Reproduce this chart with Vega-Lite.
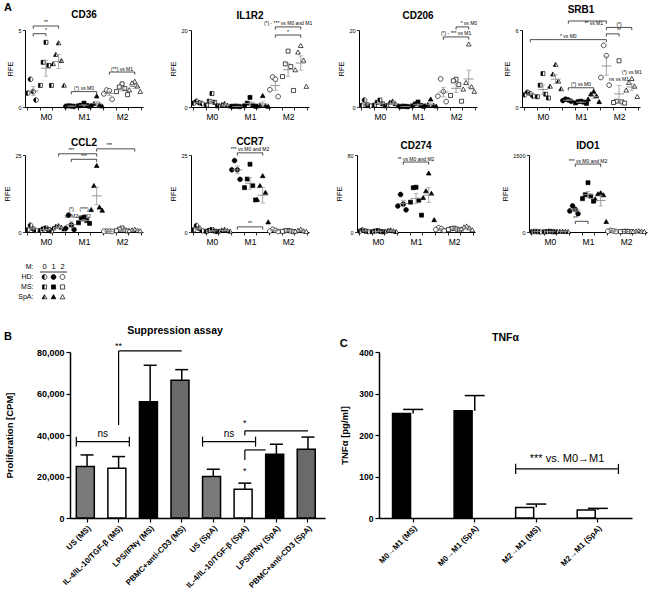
{
"$schema": "https://vega.github.io/schema/vega-lite/v6.json",
"background": "white",
"padding": {"left": 3, "top": 1, "right": 2, "bottom": 1},
"title": {"text": "A", "anchor": "start", "fontSize": 11, "offset": -8},
"resolve": {"scale": {"fill": "independent", "shape": "independent"}},
"config": {
 "font": "Liberation Sans",
 "view": {"stroke": null},
 "mark": {"color": "black"},
 "axis": {"domainColor": "black", "tickColor": "black", "labelColor": "black", "titleColor": "black", "grid": false, "labelFontSize": 5.5, "titleFontSize": 7.5, "titleFontWeight": "normal", "tickSize": 2.5, "domainWidth": 1, "tickWidth": 0.8, "labelPadding": 1.5, "titlePadding": 3},
 "title": {"fontSize": 10, "fontWeight": "bold", "color": "black", "offset": 2},
 "text": {"color": "black"}
},
"datasets": {
"pts": [
{"g":"CD36","c":"M0 HD","r":2,"v":1.8},{"g":"CD36","c":"M0 HD","r":3,"v":1.0},{"g":"CD36","c":"M0 HD","r":1,"v":0.9},{"g":"CD36","c":"M0 HD","r":4,"v":0.45},
{"g":"CD36","c":"M0 MS","r":3,"v":4.2},{"g":"CD36","c":"M0 MS","r":2,"v":2.9},{"g":"CD36","c":"M0 MS","r":4,"v":2.7},{"g":"CD36","c":"M0 MS","r":1,"v":1.4},{"g":"CD36","c":"M0 MS","r":5,"v":1.4},
{"g":"CD36","c":"M0 SpA","r":3,"v":4.15},{"g":"CD36","c":"M0 SpA","r":2,"v":3.4},{"g":"CD36","c":"M0 SpA","r":4,"v":3.0},{"g":"CD36","c":"M0 SpA","r":1,"v":2.8},{"g":"CD36","c":"M0 SpA","r":5,"v":1.4},
{"g":"CD36","c":"M1 HD","r":2,"v":0.08},{"g":"CD36","c":"M1 HD","r":3,"v":0.06},{"g":"CD36","c":"M1 HD","r":1,"v":0.05},{"g":"CD36","c":"M1 HD","r":4,"v":0.04},
{"g":"CD36","c":"M1 MS","r":3,"v":0.25},{"g":"CD36","c":"M1 MS","r":2,"v":0.12},{"g":"CD36","c":"M1 MS","r":4,"v":0.1},{"g":"CD36","c":"M1 MS","r":1,"v":0.08},{"g":"CD36","c":"M1 MS","r":5,"v":0.05},
{"g":"CD36","c":"M1 SpA","r":3,"v":0.7},{"g":"CD36","c":"M1 SpA","r":2,"v":0.2},{"g":"CD36","c":"M1 SpA","r":4,"v":0.15},{"g":"CD36","c":"M1 SpA","r":1,"v":0.1},{"g":"CD36","c":"M1 SpA","r":5,"v":0.05},
{"g":"CD36","c":"M2 HD","r":2,"v":1.1},{"g":"CD36","c":"M2 HD","r":3,"v":1.05},{"g":"CD36","c":"M2 HD","r":1,"v":0.85},{"g":"CD36","c":"M2 HD","r":4,"v":0.5},
{"g":"CD36","c":"M2 MS","r":3,"v":1.5},{"g":"CD36","c":"M2 MS","r":2,"v":1.3},{"g":"CD36","c":"M2 MS","r":4,"v":1.2},{"g":"CD36","c":"M2 MS","r":1,"v":1.0},{"g":"CD36","c":"M2 MS","r":5,"v":0.8},
{"g":"CD36","c":"M2 SpA","r":3,"v":1.65},{"g":"CD36","c":"M2 SpA","r":2,"v":1.55},{"g":"CD36","c":"M2 SpA","r":4,"v":1.35},{"g":"CD36","c":"M2 SpA","r":1,"v":1.1},{"g":"CD36","c":"M2 SpA","r":5,"v":1.0},

{"g":"IL1R2","c":"M0 HD","r":2,"v":1.5},{"g":"IL1R2","c":"M0 HD","r":3,"v":1.1},{"g":"IL1R2","c":"M0 HD","r":1,"v":1.0},{"g":"IL1R2","c":"M0 HD","r":4,"v":0.9},
{"g":"IL1R2","c":"M0 MS","r":3,"v":3.5},{"g":"IL1R2","c":"M0 MS","r":2,"v":1.5},{"g":"IL1R2","c":"M0 MS","r":4,"v":1.2},{"g":"IL1R2","c":"M0 MS","r":1,"v":0.5},{"g":"IL1R2","c":"M0 MS","r":5,"v":0.3},
{"g":"IL1R2","c":"M0 SpA","r":3,"v":0.9},{"g":"IL1R2","c":"M0 SpA","r":2,"v":0.6},{"g":"IL1R2","c":"M0 SpA","r":4,"v":0.4},{"g":"IL1R2","c":"M0 SpA","r":1,"v":0.3},{"g":"IL1R2","c":"M0 SpA","r":5,"v":0.2},
{"g":"IL1R2","c":"M1 HD","r":2,"v":0.2},{"g":"IL1R2","c":"M1 HD","r":3,"v":0.2},{"g":"IL1R2","c":"M1 HD","r":1,"v":0.15},{"g":"IL1R2","c":"M1 HD","r":4,"v":0.1},
{"g":"IL1R2","c":"M1 MS","r":3,"v":2.5},{"g":"IL1R2","c":"M1 MS","r":2,"v":1.0},{"g":"IL1R2","c":"M1 MS","r":4,"v":0.5},{"g":"IL1R2","c":"M1 MS","r":1,"v":0.3},{"g":"IL1R2","c":"M1 MS","r":5,"v":0.2},
{"g":"IL1R2","c":"M1 SpA","r":3,"v":2.9},{"g":"IL1R2","c":"M1 SpA","r":2,"v":0.5},{"g":"IL1R2","c":"M1 SpA","r":4,"v":0.3},{"g":"IL1R2","c":"M1 SpA","r":1,"v":0.2},{"g":"IL1R2","c":"M1 SpA","r":5,"v":0.1},
{"g":"IL1R2","c":"M2 HD","r":2,"v":7.8},{"g":"IL1R2","c":"M2 HD","r":3,"v":7.2},{"g":"IL1R2","c":"M2 HD","r":1,"v":4.5},{"g":"IL1R2","c":"M2 HD","r":4,"v":2.7},
{"g":"IL1R2","c":"M2 MS","r":3,"v":14.5},{"g":"IL1R2","c":"M2 MS","r":2,"v":11.2},{"g":"IL1R2","c":"M2 MS","r":4,"v":10.5},{"g":"IL1R2","c":"M2 MS","r":1,"v":7.9},{"g":"IL1R2","c":"M2 MS","r":5,"v":4.3},
{"g":"IL1R2","c":"M2 SpA","r":3,"v":15.9},{"g":"IL1R2","c":"M2 SpA","r":2,"v":14.2},{"g":"IL1R2","c":"M2 SpA","r":4,"v":12.1},{"g":"IL1R2","c":"M2 SpA","r":1,"v":9.6},{"g":"IL1R2","c":"M2 SpA","r":5,"v":5.3},

{"g":"CD206","c":"M0 HD","r":2,"v":1.8},{"g":"CD206","c":"M0 HD","r":3,"v":0.6},{"g":"CD206","c":"M0 HD","r":1,"v":0.4},{"g":"CD206","c":"M0 HD","r":4,"v":0.3},
{"g":"CD206","c":"M0 MS","r":3,"v":1.8},{"g":"CD206","c":"M0 MS","r":2,"v":1.2},{"g":"CD206","c":"M0 MS","r":4,"v":0.8},{"g":"CD206","c":"M0 MS","r":1,"v":0.5},{"g":"CD206","c":"M0 MS","r":5,"v":0.3},
{"g":"CD206","c":"M0 SpA","r":3,"v":1.5},{"g":"CD206","c":"M0 SpA","r":2,"v":1.2},{"g":"CD206","c":"M0 SpA","r":4,"v":0.8},{"g":"CD206","c":"M0 SpA","r":1,"v":0.4},{"g":"CD206","c":"M0 SpA","r":5,"v":0.3},
{"g":"CD206","c":"M1 HD","r":2,"v":0.2},{"g":"CD206","c":"M1 HD","r":3,"v":0.15},{"g":"CD206","c":"M1 HD","r":1,"v":0.1},{"g":"CD206","c":"M1 HD","r":4,"v":0.1},
{"g":"CD206","c":"M1 MS","r":3,"v":1.3},{"g":"CD206","c":"M1 MS","r":2,"v":0.8},{"g":"CD206","c":"M1 MS","r":4,"v":0.4},{"g":"CD206","c":"M1 MS","r":1,"v":0.3},{"g":"CD206","c":"M1 MS","r":5,"v":0.2},
{"g":"CD206","c":"M1 SpA","r":3,"v":2.0},{"g":"CD206","c":"M1 SpA","r":2,"v":0.6},{"g":"CD206","c":"M1 SpA","r":4,"v":0.4},{"g":"CD206","c":"M1 SpA","r":1,"v":0.3},{"g":"CD206","c":"M1 SpA","r":5,"v":0.2},
{"g":"CD206","c":"M2 HD","r":2,"v":7.3},{"g":"CD206","c":"M2 HD","r":3,"v":4.0},{"g":"CD206","c":"M2 HD","r":1,"v":2.8},{"g":"CD206","c":"M2 HD","r":4,"v":1.4},
{"g":"CD206","c":"M2 MS","r":3,"v":7.2},{"g":"CD206","c":"M2 MS","r":2,"v":6.8},{"g":"CD206","c":"M2 MS","r":4,"v":5.8},{"g":"CD206","c":"M2 MS","r":1,"v":3.0},{"g":"CD206","c":"M2 MS","r":5,"v":1.5},
{"g":"CD206","c":"M2 SpA","r":3,"v":16.3},{"g":"CD206","c":"M2 SpA","r":2,"v":6.3},{"g":"CD206","c":"M2 SpA","r":4,"v":5.2},{"g":"CD206","c":"M2 SpA","r":1,"v":4.6},{"g":"CD206","c":"M2 SpA","r":5,"v":4.0},

{"g":"SRB1","c":"M0 HD","r":2,"v":1.15},{"g":"SRB1","c":"M0 HD","r":3,"v":1.05},{"g":"SRB1","c":"M0 HD","r":1,"v":0.95},{"g":"SRB1","c":"M0 HD","r":4,"v":0.85},
{"g":"SRB1","c":"M0 MS","r":3,"v":2.6},{"g":"SRB1","c":"M0 MS","r":2,"v":1.7},{"g":"SRB1","c":"M0 MS","r":4,"v":1.0},{"g":"SRB1","c":"M0 MS","r":1,"v":0.8},{"g":"SRB1","c":"M0 MS","r":5,"v":0.7},
{"g":"SRB1","c":"M0 SpA","r":3,"v":3.3},{"g":"SRB1","c":"M0 SpA","r":2,"v":2.55},{"g":"SRB1","c":"M0 SpA","r":4,"v":2.0},{"g":"SRB1","c":"M0 SpA","r":1,"v":1.6},{"g":"SRB1","c":"M0 SpA","r":5,"v":1.4},
{"g":"SRB1","c":"M1 HD","r":2,"v":0.62},{"g":"SRB1","c":"M1 HD","r":3,"v":0.55},{"g":"SRB1","c":"M1 HD","r":1,"v":0.5},{"g":"SRB1","c":"M1 HD","r":4,"v":0.45},
{"g":"SRB1","c":"M1 MS","r":3,"v":0.45},{"g":"SRB1","c":"M1 MS","r":2,"v":0.42},{"g":"SRB1","c":"M1 MS","r":4,"v":0.38},{"g":"SRB1","c":"M1 MS","r":1,"v":0.32},{"g":"SRB1","c":"M1 MS","r":5,"v":0.28},
{"g":"SRB1","c":"M1 SpA","r":3,"v":1.2},{"g":"SRB1","c":"M1 SpA","r":2,"v":1.0},{"g":"SRB1","c":"M1 SpA","r":4,"v":0.85},{"g":"SRB1","c":"M1 SpA","r":1,"v":0.6},{"g":"SRB1","c":"M1 SpA","r":5,"v":0.4},
{"g":"SRB1","c":"M2 HD","r":2,"v":4.8},{"g":"SRB1","c":"M2 HD","r":3,"v":4.0},{"g":"SRB1","c":"M2 HD","r":1,"v":2.3},{"g":"SRB1","c":"M2 HD","r":4,"v":1.7},
{"g":"SRB1","c":"M2 MS","r":3,"v":3.6},{"g":"SRB1","c":"M2 MS","r":2,"v":0.45},{"g":"SRB1","c":"M2 MS","r":4,"v":0.4},{"g":"SRB1","c":"M2 MS","r":1,"v":0.35},{"g":"SRB1","c":"M2 MS","r":5,"v":0.3},
{"g":"SRB1","c":"M2 SpA","r":3,"v":2.2},{"g":"SRB1","c":"M2 SpA","r":2,"v":1.9},{"g":"SRB1","c":"M2 SpA","r":4,"v":1.6},{"g":"SRB1","c":"M2 SpA","r":1,"v":1.3},{"g":"SRB1","c":"M2 SpA","r":5,"v":0.8},

{"g":"CCL2","c":"M0 HD","r":2,"v":2.2},{"g":"CCL2","c":"M0 HD","r":3,"v":1.0},{"g":"CCL2","c":"M0 HD","r":1,"v":0.7},{"g":"CCL2","c":"M0 HD","r":4,"v":0.5},
{"g":"CCL2","c":"M0 MS","r":3,"v":1.3},{"g":"CCL2","c":"M0 MS","r":2,"v":1.0},{"g":"CCL2","c":"M0 MS","r":4,"v":0.8},{"g":"CCL2","c":"M0 MS","r":1,"v":0.5},{"g":"CCL2","c":"M0 MS","r":5,"v":0.3},
{"g":"CCL2","c":"M0 SpA","r":3,"v":2.0},{"g":"CCL2","c":"M0 SpA","r":2,"v":1.8},{"g":"CCL2","c":"M0 SpA","r":4,"v":1.5},{"g":"CCL2","c":"M0 SpA","r":1,"v":1.2},{"g":"CCL2","c":"M0 SpA","r":5,"v":0.9},
{"g":"CCL2","c":"M1 HD","r":2,"v":5.5},{"g":"CCL2","c":"M1 HD","r":3,"v":2.3},{"g":"CCL2","c":"M1 HD","r":1,"v":1.2},{"g":"CCL2","c":"M1 HD","r":4,"v":0.8},
{"g":"CCL2","c":"M1 MS","r":3,"v":4.8},{"g":"CCL2","c":"M1 MS","r":2,"v":4.3},{"g":"CCL2","c":"M1 MS","r":4,"v":3.7},{"g":"CCL2","c":"M1 MS","r":1,"v":3.0},{"g":"CCL2","c":"M1 MS","r":5,"v":2.8},
{"g":"CCL2","c":"M1 SpA","r":3,"v":21.5},{"g":"CCL2","c":"M1 SpA","r":2,"v":15.0},{"g":"CCL2","c":"M1 SpA","r":4,"v":8.0},{"g":"CCL2","c":"M1 SpA","r":1,"v":7.2},{"g":"CCL2","c":"M1 SpA","r":5,"v":7.0},
{"g":"CCL2","c":"M2 HD","r":2,"v":0.3},{"g":"CCL2","c":"M2 HD","r":3,"v":0.25},{"g":"CCL2","c":"M2 HD","r":1,"v":0.2},{"g":"CCL2","c":"M2 HD","r":4,"v":0.2},
{"g":"CCL2","c":"M2 MS","r":3,"v":1.3},{"g":"CCL2","c":"M2 MS","r":2,"v":0.9},{"g":"CCL2","c":"M2 MS","r":4,"v":0.6},{"g":"CCL2","c":"M2 MS","r":1,"v":0.4},{"g":"CCL2","c":"M2 MS","r":5,"v":0.3},
{"g":"CCL2","c":"M2 SpA","r":3,"v":0.8},{"g":"CCL2","c":"M2 SpA","r":2,"v":0.6},{"g":"CCL2","c":"M2 SpA","r":4,"v":0.5},{"g":"CCL2","c":"M2 SpA","r":1,"v":0.4},{"g":"CCL2","c":"M2 SpA","r":5,"v":0.3},

{"g":"CCR7","c":"M0 HD","r":2,"v":2.1},{"g":"CCR7","c":"M0 HD","r":3,"v":1.2},{"g":"CCR7","c":"M0 HD","r":1,"v":0.7},{"g":"CCR7","c":"M0 HD","r":4,"v":0.4},
{"g":"CCR7","c":"M0 MS","r":3,"v":0.8},{"g":"CCR7","c":"M0 MS","r":2,"v":0.5},{"g":"CCR7","c":"M0 MS","r":4,"v":0.3},{"g":"CCR7","c":"M0 MS","r":1,"v":0.2},{"g":"CCR7","c":"M0 MS","r":5,"v":0.1},
{"g":"CCR7","c":"M0 SpA","r":3,"v":0.8},{"g":"CCR7","c":"M0 SpA","r":2,"v":0.6},{"g":"CCR7","c":"M0 SpA","r":4,"v":0.4},{"g":"CCR7","c":"M0 SpA","r":1,"v":0.3},{"g":"CCR7","c":"M0 SpA","r":5,"v":0.2},
{"g":"CCR7","c":"M1 HD","r":2,"v":23.2},{"g":"CCR7","c":"M1 HD","r":3,"v":20.2},{"g":"CCR7","c":"M1 HD","r":1,"v":20.2},{"g":"CCR7","c":"M1 HD","r":4,"v":17.1},
{"g":"CCR7","c":"M1 MS","r":3,"v":22.0},{"g":"CCR7","c":"M1 MS","r":2,"v":17.2},{"g":"CCR7","c":"M1 MS","r":4,"v":15.1},{"g":"CCR7","c":"M1 MS","r":1,"v":14.4},{"g":"CCR7","c":"M1 MS","r":5,"v":10.4},
{"g":"CCR7","c":"M1 SpA","r":3,"v":18.2},{"g":"CCR7","c":"M1 SpA","r":2,"v":15.0},{"g":"CCR7","c":"M1 SpA","r":4,"v":12.8},{"g":"CCR7","c":"M1 SpA","r":1,"v":10.5},{"g":"CCR7","c":"M1 SpA","r":5,"v":3.2},
{"g":"CCR7","c":"M2 HD","r":2,"v":0.9},{"g":"CCR7","c":"M2 HD","r":3,"v":0.5},{"g":"CCR7","c":"M2 HD","r":1,"v":0.3},{"g":"CCR7","c":"M2 HD","r":4,"v":0.2},
{"g":"CCR7","c":"M2 MS","r":3,"v":0.5},{"g":"CCR7","c":"M2 MS","r":2,"v":0.4},{"g":"CCR7","c":"M2 MS","r":4,"v":0.3},{"g":"CCR7","c":"M2 MS","r":1,"v":0.2},{"g":"CCR7","c":"M2 MS","r":5,"v":0.1},
{"g":"CCR7","c":"M2 SpA","r":3,"v":0.8},{"g":"CCR7","c":"M2 SpA","r":2,"v":0.5},{"g":"CCR7","c":"M2 SpA","r":4,"v":0.3},{"g":"CCR7","c":"M2 SpA","r":1,"v":0.2},{"g":"CCR7","c":"M2 SpA","r":5,"v":0.1},

{"g":"CD274","c":"M0 HD","r":2,"v":2.0},{"g":"CD274","c":"M0 HD","r":3,"v":1.0},{"g":"CD274","c":"M0 HD","r":1,"v":0.8},{"g":"CD274","c":"M0 HD","r":4,"v":0.5},
{"g":"CD274","c":"M0 MS","r":3,"v":1.5},{"g":"CD274","c":"M0 MS","r":2,"v":1.0},{"g":"CD274","c":"M0 MS","r":4,"v":0.5},{"g":"CD274","c":"M0 MS","r":1,"v":0.3},{"g":"CD274","c":"M0 MS","r":5,"v":0.2},
{"g":"CD274","c":"M0 SpA","r":3,"v":2.0},{"g":"CD274","c":"M0 SpA","r":2,"v":1.5},{"g":"CD274","c":"M0 SpA","r":4,"v":1.0},{"g":"CD274","c":"M0 SpA","r":1,"v":0.5},{"g":"CD274","c":"M0 SpA","r":5,"v":0.3},
{"g":"CD274","c":"M1 HD","r":2,"v":39},{"g":"CD274","c":"M1 HD","r":3,"v":29},{"g":"CD274","c":"M1 HD","r":1,"v":27},{"g":"CD274","c":"M1 HD","r":4,"v":23},
{"g":"CD274","c":"M1 MS","r":3,"v":46.5},{"g":"CD274","c":"M1 MS","r":2,"v":46},{"g":"CD274","c":"M1 MS","r":4,"v":33},{"g":"CD274","c":"M1 MS","r":1,"v":31},{"g":"CD274","c":"M1 MS","r":5,"v":17.5},
{"g":"CD274","c":"M1 SpA","r":3,"v":61},{"g":"CD274","c":"M1 SpA","r":2,"v":42.5},{"g":"CD274","c":"M1 SpA","r":4,"v":40},{"g":"CD274","c":"M1 SpA","r":1,"v":35.5},{"g":"CD274","c":"M1 SpA","r":5,"v":12.5},
{"g":"CD274","c":"M2 HD","r":2,"v":4.5},{"g":"CD274","c":"M2 HD","r":3,"v":3.5},{"g":"CD274","c":"M2 HD","r":1,"v":2.5},{"g":"CD274","c":"M2 HD","r":4,"v":1.5},
{"g":"CD274","c":"M2 MS","r":3,"v":4.0},{"g":"CD274","c":"M2 MS","r":2,"v":3.5},{"g":"CD274","c":"M2 MS","r":4,"v":3.0},{"g":"CD274","c":"M2 MS","r":1,"v":2.5},{"g":"CD274","c":"M2 MS","r":5,"v":2.0},
{"g":"CD274","c":"M2 SpA","r":3,"v":6.0},{"g":"CD274","c":"M2 SpA","r":2,"v":5.0},{"g":"CD274","c":"M2 SpA","r":4,"v":4.0},{"g":"CD274","c":"M2 SpA","r":1,"v":3.0},{"g":"CD274","c":"M2 SpA","r":5,"v":2.0},

{"g":"IDO1","c":"M0 HD","r":2,"v":10},{"g":"IDO1","c":"M0 HD","r":3,"v":8},{"g":"IDO1","c":"M0 HD","r":1,"v":5},{"g":"IDO1","c":"M0 HD","r":4,"v":3},
{"g":"IDO1","c":"M0 MS","r":3,"v":15},{"g":"IDO1","c":"M0 MS","r":2,"v":8},{"g":"IDO1","c":"M0 MS","r":4,"v":5},{"g":"IDO1","c":"M0 MS","r":1,"v":3},{"g":"IDO1","c":"M0 MS","r":5,"v":2},
{"g":"IDO1","c":"M0 SpA","r":3,"v":12},{"g":"IDO1","c":"M0 SpA","r":2,"v":10},{"g":"IDO1","c":"M0 SpA","r":4,"v":8},{"g":"IDO1","c":"M0 SpA","r":1,"v":5},{"g":"IDO1","c":"M0 SpA","r":5,"v":3},
{"g":"IDO1","c":"M1 HD","r":2,"v":510},{"g":"IDO1","c":"M1 HD","r":3,"v":440},{"g":"IDO1","c":"M1 HD","r":1,"v":410},{"g":"IDO1","c":"M1 HD","r":4,"v":355},
{"g":"IDO1","c":"M1 MS","r":3,"v":960},{"g":"IDO1","c":"M1 MS","r":2,"v":725},{"g":"IDO1","c":"M1 MS","r":4,"v":700},{"g":"IDO1","c":"M1 MS","r":1,"v":650},{"g":"IDO1","c":"M1 MS","r":5,"v":600},
{"g":"IDO1","c":"M1 SpA","r":3,"v":760},{"g":"IDO1","c":"M1 SpA","r":2,"v":740},{"g":"IDO1","c":"M1 SpA","r":4,"v":720},{"g":"IDO1","c":"M1 SpA","r":1,"v":640},{"g":"IDO1","c":"M1 SpA","r":5,"v":200},
{"g":"IDO1","c":"M2 HD","r":2,"v":30},{"g":"IDO1","c":"M2 HD","r":3,"v":20},{"g":"IDO1","c":"M2 HD","r":1,"v":15},{"g":"IDO1","c":"M2 HD","r":4,"v":10},
{"g":"IDO1","c":"M2 MS","r":3,"v":15},{"g":"IDO1","c":"M2 MS","r":2,"v":12},{"g":"IDO1","c":"M2 MS","r":4,"v":10},{"g":"IDO1","c":"M2 MS","r":1,"v":8},{"g":"IDO1","c":"M2 MS","r":5,"v":5},
{"g":"IDO1","c":"M2 SpA","r":3,"v":20},{"g":"IDO1","c":"M2 SpA","r":2,"v":15},{"g":"IDO1","c":"M2 SpA","r":4,"v":12},{"g":"IDO1","c":"M2 SpA","r":1,"v":8},{"g":"IDO1","c":"M2 SpA","r":5,"v":5}
],
"br": [
{"g":"CD36","a":"M0 HD","b":"M0 SpA","y":5.26,"t":"**","tc":"M0 MS"},
{"g":"CD36","a":"M0 HD","b":"M0 MS","y":4.76,"t":"*","tc":"M0 MS"},
{"g":"CD36","a":"M1 HD","b":"M1 SpA","y":1.0,"t":"(*) vs M0","tc":"M1 MS"},
{"g":"CD36","a":"M2 HD","b":"M2 SpA","y":2.27,"t":"(**) vs M1","tc":"M2 MS"},
{"g":"IL1R2","a":"M2 HD","b":"M2 SpA","y":20.8,"t":"(*) - *** vs M0 and M1","tc":"M2 MS"},
{"g":"IL1R2","a":"M2 HD","b":"M2 SpA","y":18.7,"t":"*","tc":"M2 MS"},
{"g":"CD206","a":"M2 MS","b":"M2 SpA","y":20.8,"t":"* vs M0","tc":"M2 SpA"},
{"g":"CD206","a":"M2 HD","b":"M2 SpA","y":18.2,"t":"(*) - *** vs M1","tc":"M2 MS"},
{"g":"SRB1","a":"M1 HD","b":"M2 HD","y":6.7,"t":"","tc":"M1 SpA"},
{"g":"SRB1","tc":"M1 SpA","y":6.25,"t":"** vs M1"},
{"g":"SRB1","a":"M2 HD","b":"M2 SpA","y":6.2,"t":"(*)","tc":"M2 MS"},
{"g":"SRB1","a":"M2 HD","b":"M2 MS","y":5.7,"t":"**","tc":"M2 MS"},
{"g":"SRB1","a":"M0 HD","b":"M2 HD","y":5.25,"t":"* vs M0","tc":"M1 HD"},
{"g":"SRB1","a":"M1 HD","b":"M1 SpA","y":1.5,"t":"(*) vs M0","tc":"M1 MS"},
{"g":"SRB1","tc":"M2 MS","y":1.9,"t":"ns vs M1"},
{"g":"SRB1","tc":"M2 SpA","y":2.45,"t":"(*) vs M1"},
{"g":"CCL2","a":"M0 SpA","b":"M1 SpA","y":25.4,"t":"***","tc":"M1 HD"},
{"g":"CCL2","a":"M1 HD","b":"M1 SpA","y":23.6,"t":"***","tc":"M1 MS"},
{"g":"CCL2","a":"M1 SpA","b":"M2 SpA","y":27.0,"t":"***","tc":"M2 HD"},
{"g":"CCL2","tc":"M1 HD","y":6.3,"t":"(*)\nvs M2"},
{"g":"CCL2","tc":"M1 MS","y":6.3,"t":"(***)\nvs M2"},
{"g":"CCR7","a":"M1 HD","b":"M1 SpA","y":25.7,"t":"*** vs M0 and M2","tc":"M1 MS"},
{"g":"CCR7","a":"M1 HD","b":"M1 SpA","y":1.66,"t":"**","tc":"M1 MS"},
{"g":"CD274","a":"M1 HD","b":"M1 SpA","y":72.7,"t":"** vs M0 and M2","tc":"M1 MS"},
{"g":"IDO1","a":"M1 HD","b":"M1 SpA","y":1323,"t":"*** vs M0 and M2","tc":"M1 MS"},
{"g":"IDO1","a":"M1 HD","b":"M1 MS","y":208,"t":"**","tc":"M1 HD"}
],
"leg": [
{"row":"M:","col":"0","t":"0"},{"row":"M:","col":"1","t":"1"},{"row":"M:","col":"2","t":"2"},
{"row":"HD:","col":"0","c":"M0 HD"},{"row":"HD:","col":"1","c":"M1 HD"},{"row":"HD:","col":"2","c":"M2 HD"},
{"row":"MS:","col":"0","c":"M0 MS"},{"row":"MS:","col":"1","c":"M1 MS"},{"row":"MS:","col":"2","c":"M2 MS"},
{"row":"SpA:","col":"0","c":"M0 SpA"},{"row":"SpA:","col":"1","c":"M1 SpA"},{"row":"SpA:","col":"2","c":"M2 SpA"}
],
"legLine": [{"a":"0","b":"2","row":"M:"}],
"supp": [
{"k":"US (MS)","v":24800,"e":30400},
{"k":"IL-4/IL-10/TGF-β (MS)","v":24000,"e":29600},
{"k":"LPS/IFNγ (MS)","v":56000,"e":73600},
{"k":"PBMC+anti-CD3 (MS)","v":66400,"e":71500},
{"k":"US (SpA)","v":20000,"e":23500},
{"k":"IL-4/IL-10/TGF-β (SpA)","v":13900,"e":16800},
{"k":"LPS/IFNγ (SpA)","v":30700,"e":35500},
{"k":"PBMC+anti-CD3 (SpA)","v":33100,"e":39000}
],
"suppSeg": [
{"xa":"IL-4/IL-10/TGF-β (MS)","xb":"IL-4/IL-10/TGF-β (MS)","ya":44800,"yb":80500},
{"xa":"IL-4/IL-10/TGF-β (MS)","xb":"PBMC+anti-CD3 (MS)","ya":80500,"yb":80500},
{"xa":"IL-4/IL-10/TGF-β (SpA)","xb":"PBMC+anti-CD3 (SpA)","ya":42000,"yb":42000},
{"xa":"IL-4/IL-10/TGF-β (SpA)","xb":"IL-4/IL-10/TGF-β (SpA)","ya":39800,"yb":42000},
{"xa":"IL-4/IL-10/TGF-β (SpA)","xb":"IL-4/IL-10/TGF-β (SpA)","ya":28000,"yb":32800}
],
"suppSegE": [
{"xa":"IL-4/IL-10/TGF-β (SpA)","xb":"LPS/IFNγ (SpA)","ya":32800,"yb":32800}
],
"suppNs": [
{"a":"US (MS)","b":"IL-4/IL-10/TGF-β (MS)","y":36800,"lo":34400,"hi":39200,"t":"ns","ty":40300},
{"a":"US (SpA)","b":"IL-4/IL-10/TGF-β (SpA)","y":36800,"lo":34400,"hi":39200,"t":"ns","ty":40300}
],
"suppTxt": [
{"x":"IL-4/IL-10/TGF-β (MS)","y":83000,"t":"**"},
{"x":"IL-4/IL-10/TGF-β (SpA)","y":46000,"t":"*"},
{"x":"IL-4/IL-10/TGF-β (SpA)","y":22500,"t":"*"}
],
"tnf": [
{"k":"M0→M1 (MS)","v":252,"e":261.6},
{"k":"M0→M1 (SpA)","v":258.4,"e":295},
{"k":"M2→M1 (MS)","v":25.6,"e":33.6},
{"k":"M2→M1 (SpA)","v":19.2,"e":23.2}
],
"tnfNs": [
{"a":"M2→M1 (MS)","b":"M2→M1 (SpA)","y":118.4,"lo":106,"hi":130.5,"t":"*** vs. M0→M1","ty":141}
]
},
"columns": 1,
"align": "none",
"spacing": 16,
"concat": [
{"resolve": {"scale": {"fill": "independent", "shape": "independent"}}, "hconcat": [
{"title":{"text":"CD36","offset":0},"width":118,"height":77,"resolve":{"scale":{"shape":"independent"}},"layer":[
{"data":{"name":"pts"},"transform":[{"filter":"datum.g=='CD36'"}],"mark":{"type":"point","filled":true,"stroke":"black","strokeWidth":0.7,"size":22,"opacity":1},
"encoding":{"x":{"field":"c","type":"nominal","title":null,"scale":{"paddingInner":0,"paddingOuter":0.15},"axis":{"labelExpr":"datum.value=='M0 MS' ? 'M0' : datum.value=='M1 MS' ? 'M1' : datum.value=='M2 MS' ? 'M2' : ''","labelAngle":0,"labelFontSize":8.5,"labelOverlap":false,"tickBand":"extent","tickSize":3,"labelPadding":2,"domainWidth":1.2}},
"xOffset":{"field":"r","type":"nominal","scale":{"domain":[1,2,3,4,5],"paddingOuter":0.3}},
"y":{"field":"v","type":"quantitative","title":"RFE","scale":{"domain":[0,5],"nice":false},"axis":{"values":[0,1,2,3,4,5]}},
"shape":{"field":"c","type":"nominal","scale":{"domain":["M0 HD","M0 MS","M0 SpA","M1 HD","M1 MS","M1 SpA","M2 HD","M2 MS","M2 SpA"],"range":["M1,0A1,1,0,1,1,-1,0A1,1,0,1,1,1,0Z","M-0.85,-0.85H0.85V0.85H-0.85Z","M0,-1L1,0.75H-1Z","M1,0A1,1,0,1,1,-1,0A1,1,0,1,1,1,0Z","M-0.85,-0.85H0.85V0.85H-0.85Z","M0,-1L1,0.75H-1Z","M1,0A1,1,0,1,1,-1,0A1,1,0,1,1,1,0Z","M-0.85,-0.85H0.85V0.85H-0.85Z","M0,-1L1,0.75H-1Z"]},"legend":null},
"fill":{"field":"c","type":"nominal","scale":{"domain":["M0 HD","M0 MS","M0 SpA","M1 HD","M1 MS","M1 SpA","M2 HD","M2 MS","M2 SpA"],"range":["white","white","white","black","black","black","white","white","white"]},"legend":null}}},
{"data":{"name":"pts"},"transform":[{"filter":"datum.g=='CD36'"},{"filter":{"field":"c","oneOf":["M0 HD","M0 MS","M0 SpA"]}}],"mark":{"type":"point","filled":true,"fill":"black","strokeWidth":0,"size":22,"opacity":1},
"encoding":{"x":{"field":"c","type":"nominal","title":null},"xOffset":{"field":"r","type":"nominal"},"y":{"field":"v","type":"quantitative","title":"RFE"},"shape":{"field":"c","type":"nominal","scale":{"domain":["M0 HD","M0 MS","M0 SpA"],"range":["M0,-1A1,1,0,0,0,0,1Z","M-0.85,-0.85H0V0.85H-0.85Z","M0,-1V0.75H-1Z"]},"legend":null}}},
{"data":{"name":"pts"},"transform":[{"filter":"datum.g=='CD36'"}],"mark":{"type":"errorbar","extent":"stderr","color":"#8c8c8c","thickness":0.8,"ticks":{"size":5}},"encoding":{"x":{"field":"c","type":"nominal","title":null},"y":{"field":"v","type":"quantitative","title":"RFE"}}},
{"data":{"name":"pts"},"transform":[{"filter":"datum.g=='CD36'"}],"mark":{"type":"tick","color":"#8c8c8c","thickness":0.9,"size":10,"opacity":1},"encoding":{"x":{"field":"c","type":"nominal","title":null},"y":{"aggregate":"mean","field":"v","type":"quantitative","title":"RFE"}}},
{"data":{"name":"br"},"transform":[{"filter":"datum.g=='CD36' && datum.a != null"}],"mark":{"type":"rule","color":"black","strokeWidth":0.7},"encoding":{"x":{"field":"a","type":"nominal","title":null},"x2":{"field":"b"},"y":{"field":"y","type":"quantitative","title":"RFE"}}},
{"data":{"name":"br"},"transform":[{"filter":"datum.g=='CD36'"},{"fold":["a","b"],"as":["k","col"]},{"filter":"datum.col != null"}],"mark":{"type":"point","shape":"M0,0V1","size":30,"stroke":"black","strokeWidth":0.7,"filled":false,"opacity":1},"encoding":{"x":{"field":"col","type":"nominal","title":null},"y":{"field":"y","type":"quantitative","title":"RFE"}}},
{"data":{"name":"br"},"transform":[{"filter":"datum.g=='CD36'"}],"mark":{"type":"text","color":"black","fontSize":5,"baseline":"bottom","dy":-0.5,"lineBreak":"\n"},"encoding":{"x":{"field":"tc","type":"nominal","title":null},"y":{"field":"y","type":"quantitative","title":"RFE"},"text":{"field":"t"}}}
]},
{"title":{"text":"IL1R2","offset":0},"width":118,"height":77,"resolve":{"scale":{"shape":"independent"}},"layer":[
{"data":{"name":"pts"},"transform":[{"filter":"datum.g=='IL1R2'"}],"mark":{"type":"point","filled":true,"stroke":"black","strokeWidth":0.7,"size":22,"opacity":1},
"encoding":{"x":{"field":"c","type":"nominal","title":null,"scale":{"paddingInner":0,"paddingOuter":0.15},"axis":{"labelExpr":"datum.value=='M0 MS' ? 'M0' : datum.value=='M1 MS' ? 'M1' : datum.value=='M2 MS' ? 'M2' : ''","labelAngle":0,"labelFontSize":8.5,"labelOverlap":false,"tickBand":"extent","tickSize":3,"labelPadding":2,"domainWidth":1.2}},
"xOffset":{"field":"r","type":"nominal","scale":{"domain":[1,2,3,4,5],"paddingOuter":0.3}},
"y":{"field":"v","type":"quantitative","title":"RFE","scale":{"domain":[0,20],"nice":false},"axis":{"values":[0,5,10,15,20]}},
"shape":{"field":"c","type":"nominal","scale":{"domain":["M0 HD","M0 MS","M0 SpA","M1 HD","M1 MS","M1 SpA","M2 HD","M2 MS","M2 SpA"],"range":["M1,0A1,1,0,1,1,-1,0A1,1,0,1,1,1,0Z","M-0.85,-0.85H0.85V0.85H-0.85Z","M0,-1L1,0.75H-1Z","M1,0A1,1,0,1,1,-1,0A1,1,0,1,1,1,0Z","M-0.85,-0.85H0.85V0.85H-0.85Z","M0,-1L1,0.75H-1Z","M1,0A1,1,0,1,1,-1,0A1,1,0,1,1,1,0Z","M-0.85,-0.85H0.85V0.85H-0.85Z","M0,-1L1,0.75H-1Z"]},"legend":null},
"fill":{"field":"c","type":"nominal","scale":{"domain":["M0 HD","M0 MS","M0 SpA","M1 HD","M1 MS","M1 SpA","M2 HD","M2 MS","M2 SpA"],"range":["white","white","white","black","black","black","white","white","white"]},"legend":null}}},
{"data":{"name":"pts"},"transform":[{"filter":"datum.g=='IL1R2'"},{"filter":{"field":"c","oneOf":["M0 HD","M0 MS","M0 SpA"]}}],"mark":{"type":"point","filled":true,"fill":"black","strokeWidth":0,"size":22,"opacity":1},
"encoding":{"x":{"field":"c","type":"nominal","title":null},"xOffset":{"field":"r","type":"nominal"},"y":{"field":"v","type":"quantitative","title":"RFE"},"shape":{"field":"c","type":"nominal","scale":{"domain":["M0 HD","M0 MS","M0 SpA"],"range":["M0,-1A1,1,0,0,0,0,1Z","M-0.85,-0.85H0V0.85H-0.85Z","M0,-1V0.75H-1Z"]},"legend":null}}},
{"data":{"name":"pts"},"transform":[{"filter":"datum.g=='IL1R2'"}],"mark":{"type":"errorbar","extent":"stderr","color":"#8c8c8c","thickness":0.8,"ticks":{"size":5}},"encoding":{"x":{"field":"c","type":"nominal","title":null},"y":{"field":"v","type":"quantitative","title":"RFE"}}},
{"data":{"name":"pts"},"transform":[{"filter":"datum.g=='IL1R2'"}],"mark":{"type":"tick","color":"#8c8c8c","thickness":0.9,"size":10,"opacity":1},"encoding":{"x":{"field":"c","type":"nominal","title":null},"y":{"aggregate":"mean","field":"v","type":"quantitative","title":"RFE"}}},
{"data":{"name":"br"},"transform":[{"filter":"datum.g=='IL1R2' && datum.a != null"}],"mark":{"type":"rule","color":"black","strokeWidth":0.7},"encoding":{"x":{"field":"a","type":"nominal","title":null},"x2":{"field":"b"},"y":{"field":"y","type":"quantitative","title":"RFE"}}},
{"data":{"name":"br"},"transform":[{"filter":"datum.g=='IL1R2'"},{"fold":["a","b"],"as":["k","col"]},{"filter":"datum.col != null"}],"mark":{"type":"point","shape":"M0,0V1","size":30,"stroke":"black","strokeWidth":0.7,"filled":false,"opacity":1},"encoding":{"x":{"field":"col","type":"nominal","title":null},"y":{"field":"y","type":"quantitative","title":"RFE"}}},
{"data":{"name":"br"},"transform":[{"filter":"datum.g=='IL1R2'"}],"mark":{"type":"text","color":"black","fontSize":5,"baseline":"bottom","dy":-0.5,"lineBreak":"\n"},"encoding":{"x":{"field":"tc","type":"nominal","title":null},"y":{"field":"y","type":"quantitative","title":"RFE"},"text":{"field":"t"}}}
]},
{"title":{"text":"CD206","offset":0},"width":118,"height":77,"resolve":{"scale":{"shape":"independent"}},"layer":[
{"data":{"name":"pts"},"transform":[{"filter":"datum.g=='CD206'"}],"mark":{"type":"point","filled":true,"stroke":"black","strokeWidth":0.7,"size":22,"opacity":1},
"encoding":{"x":{"field":"c","type":"nominal","title":null,"scale":{"paddingInner":0,"paddingOuter":0.15},"axis":{"labelExpr":"datum.value=='M0 MS' ? 'M0' : datum.value=='M1 MS' ? 'M1' : datum.value=='M2 MS' ? 'M2' : ''","labelAngle":0,"labelFontSize":8.5,"labelOverlap":false,"tickBand":"extent","tickSize":3,"labelPadding":2,"domainWidth":1.2}},
"xOffset":{"field":"r","type":"nominal","scale":{"domain":[1,2,3,4,5],"paddingOuter":0.3}},
"y":{"field":"v","type":"quantitative","title":"RFE","scale":{"domain":[0,20],"nice":false},"axis":{"values":[0,5,10,15,20]}},
"shape":{"field":"c","type":"nominal","scale":{"domain":["M0 HD","M0 MS","M0 SpA","M1 HD","M1 MS","M1 SpA","M2 HD","M2 MS","M2 SpA"],"range":["M1,0A1,1,0,1,1,-1,0A1,1,0,1,1,1,0Z","M-0.85,-0.85H0.85V0.85H-0.85Z","M0,-1L1,0.75H-1Z","M1,0A1,1,0,1,1,-1,0A1,1,0,1,1,1,0Z","M-0.85,-0.85H0.85V0.85H-0.85Z","M0,-1L1,0.75H-1Z","M1,0A1,1,0,1,1,-1,0A1,1,0,1,1,1,0Z","M-0.85,-0.85H0.85V0.85H-0.85Z","M0,-1L1,0.75H-1Z"]},"legend":null},
"fill":{"field":"c","type":"nominal","scale":{"domain":["M0 HD","M0 MS","M0 SpA","M1 HD","M1 MS","M1 SpA","M2 HD","M2 MS","M2 SpA"],"range":["white","white","white","black","black","black","white","white","white"]},"legend":null}}},
{"data":{"name":"pts"},"transform":[{"filter":"datum.g=='CD206'"},{"filter":{"field":"c","oneOf":["M0 HD","M0 MS","M0 SpA"]}}],"mark":{"type":"point","filled":true,"fill":"black","strokeWidth":0,"size":22,"opacity":1},
"encoding":{"x":{"field":"c","type":"nominal","title":null},"xOffset":{"field":"r","type":"nominal"},"y":{"field":"v","type":"quantitative","title":"RFE"},"shape":{"field":"c","type":"nominal","scale":{"domain":["M0 HD","M0 MS","M0 SpA"],"range":["M0,-1A1,1,0,0,0,0,1Z","M-0.85,-0.85H0V0.85H-0.85Z","M0,-1V0.75H-1Z"]},"legend":null}}},
{"data":{"name":"pts"},"transform":[{"filter":"datum.g=='CD206'"}],"mark":{"type":"errorbar","extent":"stderr","color":"#8c8c8c","thickness":0.8,"ticks":{"size":5}},"encoding":{"x":{"field":"c","type":"nominal","title":null},"y":{"field":"v","type":"quantitative","title":"RFE"}}},
{"data":{"name":"pts"},"transform":[{"filter":"datum.g=='CD206'"}],"mark":{"type":"tick","color":"#8c8c8c","thickness":0.9,"size":10,"opacity":1},"encoding":{"x":{"field":"c","type":"nominal","title":null},"y":{"aggregate":"mean","field":"v","type":"quantitative","title":"RFE"}}},
{"data":{"name":"br"},"transform":[{"filter":"datum.g=='CD206' && datum.a != null"}],"mark":{"type":"rule","color":"black","strokeWidth":0.7},"encoding":{"x":{"field":"a","type":"nominal","title":null},"x2":{"field":"b"},"y":{"field":"y","type":"quantitative","title":"RFE"}}},
{"data":{"name":"br"},"transform":[{"filter":"datum.g=='CD206'"},{"fold":["a","b"],"as":["k","col"]},{"filter":"datum.col != null"}],"mark":{"type":"point","shape":"M0,0V1","size":30,"stroke":"black","strokeWidth":0.7,"filled":false,"opacity":1},"encoding":{"x":{"field":"col","type":"nominal","title":null},"y":{"field":"y","type":"quantitative","title":"RFE"}}},
{"data":{"name":"br"},"transform":[{"filter":"datum.g=='CD206'"}],"mark":{"type":"text","color":"black","fontSize":5,"baseline":"bottom","dy":-0.5,"lineBreak":"\n"},"encoding":{"x":{"field":"tc","type":"nominal","title":null},"y":{"field":"y","type":"quantitative","title":"RFE"},"text":{"field":"t"}}}
]},
{"title":{"text":"SRB1","offset":1},"width":118,"height":77,"resolve":{"scale":{"shape":"independent"}},"layer":[
{"data":{"name":"pts"},"transform":[{"filter":"datum.g=='SRB1'"}],"mark":{"type":"point","filled":true,"stroke":"black","strokeWidth":0.7,"size":22,"opacity":1},
"encoding":{"x":{"field":"c","type":"nominal","title":null,"scale":{"paddingInner":0,"paddingOuter":0.15},"axis":{"labelExpr":"datum.value=='M0 MS' ? 'M0' : datum.value=='M1 MS' ? 'M1' : datum.value=='M2 MS' ? 'M2' : ''","labelAngle":0,"labelFontSize":8.5,"labelOverlap":false,"tickBand":"extent","tickSize":3,"labelPadding":2,"domainWidth":1.2}},
"xOffset":{"field":"r","type":"nominal","scale":{"domain":[1,2,3,4,5],"paddingOuter":0.3}},
"y":{"field":"v","type":"quantitative","title":"RFE","scale":{"domain":[0,6],"nice":false},"axis":{"values":[0,2,4,6]}},
"shape":{"field":"c","type":"nominal","scale":{"domain":["M0 HD","M0 MS","M0 SpA","M1 HD","M1 MS","M1 SpA","M2 HD","M2 MS","M2 SpA"],"range":["M1,0A1,1,0,1,1,-1,0A1,1,0,1,1,1,0Z","M-0.85,-0.85H0.85V0.85H-0.85Z","M0,-1L1,0.75H-1Z","M1,0A1,1,0,1,1,-1,0A1,1,0,1,1,1,0Z","M-0.85,-0.85H0.85V0.85H-0.85Z","M0,-1L1,0.75H-1Z","M1,0A1,1,0,1,1,-1,0A1,1,0,1,1,1,0Z","M-0.85,-0.85H0.85V0.85H-0.85Z","M0,-1L1,0.75H-1Z"]},"legend":null},
"fill":{"field":"c","type":"nominal","scale":{"domain":["M0 HD","M0 MS","M0 SpA","M1 HD","M1 MS","M1 SpA","M2 HD","M2 MS","M2 SpA"],"range":["white","white","white","black","black","black","white","white","white"]},"legend":null}}},
{"data":{"name":"pts"},"transform":[{"filter":"datum.g=='SRB1'"},{"filter":{"field":"c","oneOf":["M0 HD","M0 MS","M0 SpA"]}}],"mark":{"type":"point","filled":true,"fill":"black","strokeWidth":0,"size":22,"opacity":1},
"encoding":{"x":{"field":"c","type":"nominal","title":null},"xOffset":{"field":"r","type":"nominal"},"y":{"field":"v","type":"quantitative","title":"RFE"},"shape":{"field":"c","type":"nominal","scale":{"domain":["M0 HD","M0 MS","M0 SpA"],"range":["M0,-1A1,1,0,0,0,0,1Z","M-0.85,-0.85H0V0.85H-0.85Z","M0,-1V0.75H-1Z"]},"legend":null}}},
{"data":{"name":"pts"},"transform":[{"filter":"datum.g=='SRB1'"}],"mark":{"type":"errorbar","extent":"stderr","color":"#8c8c8c","thickness":0.8,"ticks":{"size":5}},"encoding":{"x":{"field":"c","type":"nominal","title":null},"y":{"field":"v","type":"quantitative","title":"RFE"}}},
{"data":{"name":"pts"},"transform":[{"filter":"datum.g=='SRB1'"}],"mark":{"type":"tick","color":"#8c8c8c","thickness":0.9,"size":10,"opacity":1},"encoding":{"x":{"field":"c","type":"nominal","title":null},"y":{"aggregate":"mean","field":"v","type":"quantitative","title":"RFE"}}},
{"data":{"name":"br"},"transform":[{"filter":"datum.g=='SRB1' && datum.a != null"}],"mark":{"type":"rule","color":"black","strokeWidth":0.7},"encoding":{"x":{"field":"a","type":"nominal","title":null},"x2":{"field":"b"},"y":{"field":"y","type":"quantitative","title":"RFE"}}},
{"data":{"name":"br"},"transform":[{"filter":"datum.g=='SRB1'"},{"fold":["a","b"],"as":["k","col"]},{"filter":"datum.col != null"}],"mark":{"type":"point","shape":"M0,0V1","size":30,"stroke":"black","strokeWidth":0.7,"filled":false,"opacity":1},"encoding":{"x":{"field":"col","type":"nominal","title":null},"y":{"field":"y","type":"quantitative","title":"RFE"}}},
{"data":{"name":"br"},"transform":[{"filter":"datum.g=='SRB1'"}],"mark":{"type":"text","color":"black","fontSize":5,"baseline":"bottom","dy":-0.5,"lineBreak":"\n"},"encoding":{"x":{"field":"tc","type":"nominal","title":null},"y":{"field":"y","type":"quantitative","title":"RFE"},"text":{"field":"t"}}}
]}
], "spacing": 24},
{"resolve": {"scale": {"fill": "independent", "shape": "independent"}}, "hconcat": [
{"title":{"text":"CCL2","offset":-5},"width":118,"height":77,"resolve":{"scale":{"shape":"independent"}},"layer":[
{"data":{"name":"pts"},"transform":[{"filter":"datum.g=='CCL2'"}],"mark":{"type":"point","filled":true,"stroke":"black","strokeWidth":0.7,"size":22,"opacity":1},
"encoding":{"x":{"field":"c","type":"nominal","title":null,"scale":{"paddingInner":0,"paddingOuter":0.15},"axis":{"labelExpr":"datum.value=='M0 MS' ? 'M0' : datum.value=='M1 MS' ? 'M1' : datum.value=='M2 MS' ? 'M2' : ''","labelAngle":0,"labelFontSize":8.5,"labelOverlap":false,"tickBand":"extent","tickSize":3,"labelPadding":2,"domainWidth":1.2}},
"xOffset":{"field":"r","type":"nominal","scale":{"domain":[1,2,3,4,5],"paddingOuter":0.3}},
"y":{"field":"v","type":"quantitative","title":"RFE","scale":{"domain":[0,25],"nice":false},"axis":{"values":[0,5,10,15,20,25]}},
"shape":{"field":"c","type":"nominal","scale":{"domain":["M0 HD","M0 MS","M0 SpA","M1 HD","M1 MS","M1 SpA","M2 HD","M2 MS","M2 SpA"],"range":["M1,0A1,1,0,1,1,-1,0A1,1,0,1,1,1,0Z","M-0.85,-0.85H0.85V0.85H-0.85Z","M0,-1L1,0.75H-1Z","M1,0A1,1,0,1,1,-1,0A1,1,0,1,1,1,0Z","M-0.85,-0.85H0.85V0.85H-0.85Z","M0,-1L1,0.75H-1Z","M1,0A1,1,0,1,1,-1,0A1,1,0,1,1,1,0Z","M-0.85,-0.85H0.85V0.85H-0.85Z","M0,-1L1,0.75H-1Z"]},"legend":null},
"fill":{"field":"c","type":"nominal","scale":{"domain":["M0 HD","M0 MS","M0 SpA","M1 HD","M1 MS","M1 SpA","M2 HD","M2 MS","M2 SpA"],"range":["white","white","white","black","black","black","white","white","white"]},"legend":null}}},
{"data":{"name":"pts"},"transform":[{"filter":"datum.g=='CCL2'"},{"filter":{"field":"c","oneOf":["M0 HD","M0 MS","M0 SpA"]}}],"mark":{"type":"point","filled":true,"fill":"black","strokeWidth":0,"size":22,"opacity":1},
"encoding":{"x":{"field":"c","type":"nominal","title":null},"xOffset":{"field":"r","type":"nominal"},"y":{"field":"v","type":"quantitative","title":"RFE"},"shape":{"field":"c","type":"nominal","scale":{"domain":["M0 HD","M0 MS","M0 SpA"],"range":["M0,-1A1,1,0,0,0,0,1Z","M-0.85,-0.85H0V0.85H-0.85Z","M0,-1V0.75H-1Z"]},"legend":null}}},
{"data":{"name":"pts"},"transform":[{"filter":"datum.g=='CCL2'"}],"mark":{"type":"errorbar","extent":"stderr","color":"#8c8c8c","thickness":0.8,"ticks":{"size":5}},"encoding":{"x":{"field":"c","type":"nominal","title":null},"y":{"field":"v","type":"quantitative","title":"RFE"}}},
{"data":{"name":"pts"},"transform":[{"filter":"datum.g=='CCL2'"}],"mark":{"type":"tick","color":"#8c8c8c","thickness":0.9,"size":10,"opacity":1},"encoding":{"x":{"field":"c","type":"nominal","title":null},"y":{"aggregate":"mean","field":"v","type":"quantitative","title":"RFE"}}},
{"data":{"name":"br"},"transform":[{"filter":"datum.g=='CCL2' && datum.a != null"}],"mark":{"type":"rule","color":"black","strokeWidth":0.7},"encoding":{"x":{"field":"a","type":"nominal","title":null},"x2":{"field":"b"},"y":{"field":"y","type":"quantitative","title":"RFE"}}},
{"data":{"name":"br"},"transform":[{"filter":"datum.g=='CCL2'"},{"fold":["a","b"],"as":["k","col"]},{"filter":"datum.col != null"}],"mark":{"type":"point","shape":"M0,0V1","size":30,"stroke":"black","strokeWidth":0.7,"filled":false,"opacity":1},"encoding":{"x":{"field":"col","type":"nominal","title":null},"y":{"field":"y","type":"quantitative","title":"RFE"}}},
{"data":{"name":"br"},"transform":[{"filter":"datum.g=='CCL2'"}],"mark":{"type":"text","color":"black","fontSize":5,"baseline":"bottom","dy":-0.5,"lineBreak":"\n"},"encoding":{"x":{"field":"tc","type":"nominal","title":null},"y":{"field":"y","type":"quantitative","title":"RFE"},"text":{"field":"t"}}}
]},
{"title":{"text":"CCR7","offset":0},"width":118,"height":77,"resolve":{"scale":{"shape":"independent"}},"layer":[
{"data":{"name":"pts"},"transform":[{"filter":"datum.g=='CCR7'"}],"mark":{"type":"point","filled":true,"stroke":"black","strokeWidth":0.7,"size":22,"opacity":1},
"encoding":{"x":{"field":"c","type":"nominal","title":null,"scale":{"paddingInner":0,"paddingOuter":0.15},"axis":{"labelExpr":"datum.value=='M0 MS' ? 'M0' : datum.value=='M1 MS' ? 'M1' : datum.value=='M2 MS' ? 'M2' : ''","labelAngle":0,"labelFontSize":8.5,"labelOverlap":false,"tickBand":"extent","tickSize":3,"labelPadding":2,"domainWidth":1.2}},
"xOffset":{"field":"r","type":"nominal","scale":{"domain":[1,2,3,4,5],"paddingOuter":0.3}},
"y":{"field":"v","type":"quantitative","title":"RFE","scale":{"domain":[0,25],"nice":false},"axis":{"values":[0,5,10,15,20,25]}},
"shape":{"field":"c","type":"nominal","scale":{"domain":["M0 HD","M0 MS","M0 SpA","M1 HD","M1 MS","M1 SpA","M2 HD","M2 MS","M2 SpA"],"range":["M1,0A1,1,0,1,1,-1,0A1,1,0,1,1,1,0Z","M-0.85,-0.85H0.85V0.85H-0.85Z","M0,-1L1,0.75H-1Z","M1,0A1,1,0,1,1,-1,0A1,1,0,1,1,1,0Z","M-0.85,-0.85H0.85V0.85H-0.85Z","M0,-1L1,0.75H-1Z","M1,0A1,1,0,1,1,-1,0A1,1,0,1,1,1,0Z","M-0.85,-0.85H0.85V0.85H-0.85Z","M0,-1L1,0.75H-1Z"]},"legend":null},
"fill":{"field":"c","type":"nominal","scale":{"domain":["M0 HD","M0 MS","M0 SpA","M1 HD","M1 MS","M1 SpA","M2 HD","M2 MS","M2 SpA"],"range":["white","white","white","black","black","black","white","white","white"]},"legend":null}}},
{"data":{"name":"pts"},"transform":[{"filter":"datum.g=='CCR7'"},{"filter":{"field":"c","oneOf":["M0 HD","M0 MS","M0 SpA"]}}],"mark":{"type":"point","filled":true,"fill":"black","strokeWidth":0,"size":22,"opacity":1},
"encoding":{"x":{"field":"c","type":"nominal","title":null},"xOffset":{"field":"r","type":"nominal"},"y":{"field":"v","type":"quantitative","title":"RFE"},"shape":{"field":"c","type":"nominal","scale":{"domain":["M0 HD","M0 MS","M0 SpA"],"range":["M0,-1A1,1,0,0,0,0,1Z","M-0.85,-0.85H0V0.85H-0.85Z","M0,-1V0.75H-1Z"]},"legend":null}}},
{"data":{"name":"pts"},"transform":[{"filter":"datum.g=='CCR7'"}],"mark":{"type":"errorbar","extent":"stderr","color":"#8c8c8c","thickness":0.8,"ticks":{"size":5}},"encoding":{"x":{"field":"c","type":"nominal","title":null},"y":{"field":"v","type":"quantitative","title":"RFE"}}},
{"data":{"name":"pts"},"transform":[{"filter":"datum.g=='CCR7'"}],"mark":{"type":"tick","color":"#8c8c8c","thickness":0.9,"size":10,"opacity":1},"encoding":{"x":{"field":"c","type":"nominal","title":null},"y":{"aggregate":"mean","field":"v","type":"quantitative","title":"RFE"}}},
{"data":{"name":"br"},"transform":[{"filter":"datum.g=='CCR7' && datum.a != null"}],"mark":{"type":"rule","color":"black","strokeWidth":0.7},"encoding":{"x":{"field":"a","type":"nominal","title":null},"x2":{"field":"b"},"y":{"field":"y","type":"quantitative","title":"RFE"}}},
{"data":{"name":"br"},"transform":[{"filter":"datum.g=='CCR7'"},{"fold":["a","b"],"as":["k","col"]},{"filter":"datum.col != null"}],"mark":{"type":"point","shape":"M0,0V1","size":30,"stroke":"black","strokeWidth":0.7,"filled":false,"opacity":1},"encoding":{"x":{"field":"col","type":"nominal","title":null},"y":{"field":"y","type":"quantitative","title":"RFE"}}},
{"data":{"name":"br"},"transform":[{"filter":"datum.g=='CCR7'"}],"mark":{"type":"text","color":"black","fontSize":5,"baseline":"bottom","dy":-0.5,"lineBreak":"\n"},"encoding":{"x":{"field":"tc","type":"nominal","title":null},"y":{"field":"y","type":"quantitative","title":"RFE"},"text":{"field":"t"}}}
]},
{"title":{"text":"CD274","offset":2},"width":118,"height":77,"resolve":{"scale":{"shape":"independent"}},"layer":[
{"data":{"name":"pts"},"transform":[{"filter":"datum.g=='CD274'"}],"mark":{"type":"point","filled":true,"stroke":"black","strokeWidth":0.7,"size":22,"opacity":1},
"encoding":{"x":{"field":"c","type":"nominal","title":null,"scale":{"paddingInner":0,"paddingOuter":0.15},"axis":{"labelExpr":"datum.value=='M0 MS' ? 'M0' : datum.value=='M1 MS' ? 'M1' : datum.value=='M2 MS' ? 'M2' : ''","labelAngle":0,"labelFontSize":8.5,"labelOverlap":false,"tickBand":"extent","tickSize":3,"labelPadding":2,"domainWidth":1.2}},
"xOffset":{"field":"r","type":"nominal","scale":{"domain":[1,2,3,4,5],"paddingOuter":0.3}},
"y":{"field":"v","type":"quantitative","title":"RFE","scale":{"domain":[0,80],"nice":false},"axis":{"values":[0,20,40,60,80]}},
"shape":{"field":"c","type":"nominal","scale":{"domain":["M0 HD","M0 MS","M0 SpA","M1 HD","M1 MS","M1 SpA","M2 HD","M2 MS","M2 SpA"],"range":["M1,0A1,1,0,1,1,-1,0A1,1,0,1,1,1,0Z","M-0.85,-0.85H0.85V0.85H-0.85Z","M0,-1L1,0.75H-1Z","M1,0A1,1,0,1,1,-1,0A1,1,0,1,1,1,0Z","M-0.85,-0.85H0.85V0.85H-0.85Z","M0,-1L1,0.75H-1Z","M1,0A1,1,0,1,1,-1,0A1,1,0,1,1,1,0Z","M-0.85,-0.85H0.85V0.85H-0.85Z","M0,-1L1,0.75H-1Z"]},"legend":null},
"fill":{"field":"c","type":"nominal","scale":{"domain":["M0 HD","M0 MS","M0 SpA","M1 HD","M1 MS","M1 SpA","M2 HD","M2 MS","M2 SpA"],"range":["white","white","white","black","black","black","white","white","white"]},"legend":null}}},
{"data":{"name":"pts"},"transform":[{"filter":"datum.g=='CD274'"},{"filter":{"field":"c","oneOf":["M0 HD","M0 MS","M0 SpA"]}}],"mark":{"type":"point","filled":true,"fill":"black","strokeWidth":0,"size":22,"opacity":1},
"encoding":{"x":{"field":"c","type":"nominal","title":null},"xOffset":{"field":"r","type":"nominal"},"y":{"field":"v","type":"quantitative","title":"RFE"},"shape":{"field":"c","type":"nominal","scale":{"domain":["M0 HD","M0 MS","M0 SpA"],"range":["M0,-1A1,1,0,0,0,0,1Z","M-0.85,-0.85H0V0.85H-0.85Z","M0,-1V0.75H-1Z"]},"legend":null}}},
{"data":{"name":"pts"},"transform":[{"filter":"datum.g=='CD274'"}],"mark":{"type":"errorbar","extent":"stderr","color":"#8c8c8c","thickness":0.8,"ticks":{"size":5}},"encoding":{"x":{"field":"c","type":"nominal","title":null},"y":{"field":"v","type":"quantitative","title":"RFE"}}},
{"data":{"name":"pts"},"transform":[{"filter":"datum.g=='CD274'"}],"mark":{"type":"tick","color":"#8c8c8c","thickness":0.9,"size":10,"opacity":1},"encoding":{"x":{"field":"c","type":"nominal","title":null},"y":{"aggregate":"mean","field":"v","type":"quantitative","title":"RFE"}}},
{"data":{"name":"br"},"transform":[{"filter":"datum.g=='CD274' && datum.a != null"}],"mark":{"type":"rule","color":"black","strokeWidth":0.7},"encoding":{"x":{"field":"a","type":"nominal","title":null},"x2":{"field":"b"},"y":{"field":"y","type":"quantitative","title":"RFE"}}},
{"data":{"name":"br"},"transform":[{"filter":"datum.g=='CD274'"},{"fold":["a","b"],"as":["k","col"]},{"filter":"datum.col != null"}],"mark":{"type":"point","shape":"M0,0V1","size":30,"stroke":"black","strokeWidth":0.7,"filled":false,"opacity":1},"encoding":{"x":{"field":"col","type":"nominal","title":null},"y":{"field":"y","type":"quantitative","title":"RFE"}}},
{"data":{"name":"br"},"transform":[{"filter":"datum.g=='CD274'"}],"mark":{"type":"text","color":"black","fontSize":5,"baseline":"bottom","dy":-0.5,"lineBreak":"\n"},"encoding":{"x":{"field":"tc","type":"nominal","title":null},"y":{"field":"y","type":"quantitative","title":"RFE"},"text":{"field":"t"}}}
]},
{"title":{"text":"IDO1","offset":2},"width":118,"height":77,"resolve":{"scale":{"shape":"independent"}},"layer":[
{"data":{"name":"pts"},"transform":[{"filter":"datum.g=='IDO1'"}],"mark":{"type":"point","filled":true,"stroke":"black","strokeWidth":0.7,"size":22,"opacity":1},
"encoding":{"x":{"field":"c","type":"nominal","title":null,"scale":{"paddingInner":0,"paddingOuter":0.15},"axis":{"labelExpr":"datum.value=='M0 MS' ? 'M0' : datum.value=='M1 MS' ? 'M1' : datum.value=='M2 MS' ? 'M2' : ''","labelAngle":0,"labelFontSize":8.5,"labelOverlap":false,"tickBand":"extent","tickSize":3,"labelPadding":2,"domainWidth":1.2}},
"xOffset":{"field":"r","type":"nominal","scale":{"domain":[1,2,3,4,5],"paddingOuter":0.3}},
"y":{"field":"v","type":"quantitative","title":"RFE","scale":{"domain":[0,1500],"nice":false},"axis":{"values":[0,500,1000,1500],"labelExpr":"datum.value == 1500 ? '1500' : datum.value == 1000 ? '1000' : datum.label"}},
"shape":{"field":"c","type":"nominal","scale":{"domain":["M0 HD","M0 MS","M0 SpA","M1 HD","M1 MS","M1 SpA","M2 HD","M2 MS","M2 SpA"],"range":["M1,0A1,1,0,1,1,-1,0A1,1,0,1,1,1,0Z","M-0.85,-0.85H0.85V0.85H-0.85Z","M0,-1L1,0.75H-1Z","M1,0A1,1,0,1,1,-1,0A1,1,0,1,1,1,0Z","M-0.85,-0.85H0.85V0.85H-0.85Z","M0,-1L1,0.75H-1Z","M1,0A1,1,0,1,1,-1,0A1,1,0,1,1,1,0Z","M-0.85,-0.85H0.85V0.85H-0.85Z","M0,-1L1,0.75H-1Z"]},"legend":null},
"fill":{"field":"c","type":"nominal","scale":{"domain":["M0 HD","M0 MS","M0 SpA","M1 HD","M1 MS","M1 SpA","M2 HD","M2 MS","M2 SpA"],"range":["white","white","white","black","black","black","white","white","white"]},"legend":null}}},
{"data":{"name":"pts"},"transform":[{"filter":"datum.g=='IDO1'"},{"filter":{"field":"c","oneOf":["M0 HD","M0 MS","M0 SpA"]}}],"mark":{"type":"point","filled":true,"fill":"black","strokeWidth":0,"size":22,"opacity":1},
"encoding":{"x":{"field":"c","type":"nominal","title":null},"xOffset":{"field":"r","type":"nominal"},"y":{"field":"v","type":"quantitative","title":"RFE"},"shape":{"field":"c","type":"nominal","scale":{"domain":["M0 HD","M0 MS","M0 SpA"],"range":["M0,-1A1,1,0,0,0,0,1Z","M-0.85,-0.85H0V0.85H-0.85Z","M0,-1V0.75H-1Z"]},"legend":null}}},
{"data":{"name":"pts"},"transform":[{"filter":"datum.g=='IDO1'"}],"mark":{"type":"errorbar","extent":"stderr","color":"#8c8c8c","thickness":0.8,"ticks":{"size":5}},"encoding":{"x":{"field":"c","type":"nominal","title":null},"y":{"field":"v","type":"quantitative","title":"RFE"}}},
{"data":{"name":"pts"},"transform":[{"filter":"datum.g=='IDO1'"}],"mark":{"type":"tick","color":"#8c8c8c","thickness":0.9,"size":10,"opacity":1},"encoding":{"x":{"field":"c","type":"nominal","title":null},"y":{"aggregate":"mean","field":"v","type":"quantitative","title":"RFE"}}},
{"data":{"name":"br"},"transform":[{"filter":"datum.g=='IDO1' && datum.a != null"}],"mark":{"type":"rule","color":"black","strokeWidth":0.7},"encoding":{"x":{"field":"a","type":"nominal","title":null},"x2":{"field":"b"},"y":{"field":"y","type":"quantitative","title":"RFE"}}},
{"data":{"name":"br"},"transform":[{"filter":"datum.g=='IDO1'"},{"fold":["a","b"],"as":["k","col"]},{"filter":"datum.col != null"}],"mark":{"type":"point","shape":"M0,0V1","size":30,"stroke":"black","strokeWidth":0.7,"filled":false,"opacity":1},"encoding":{"x":{"field":"col","type":"nominal","title":null},"y":{"field":"y","type":"quantitative","title":"RFE"}}},
{"data":{"name":"br"},"transform":[{"filter":"datum.g=='IDO1'"}],"mark":{"type":"text","color":"black","fontSize":5,"baseline":"bottom","dy":-0.5,"lineBreak":"\n"},"encoding":{"x":{"field":"tc","type":"nominal","title":null},"y":{"field":"y","type":"quantitative","title":"RFE"},"text":{"field":"t"}}}
]}
], "spacing": 24},
{"width":42,"height":48,"resolve":{"scale":{"shape":"independent"}},"layer":[
{"data":{"name":"leg"},"transform":[{"filter":"datum.c != null"}],"mark":{"type":"point","filled":true,"stroke":"black","strokeWidth":0.7,"size":24,"opacity":1},
"encoding":{"x":{"field":"col","type":"nominal","scale":{"domain":["0","1","2"],"range":[15,42]},"axis":null},
"y":{"field":"row","type":"nominal","title":null,"scale":{"domain":["M:","HD:","MS:","SpA:"],"paddingInner":0,"paddingOuter":0.4,"align":0},"axis":{"domain":false,"ticks":false,"labelFontSize":7,"labelPadding":7,"offset":-15}},
"shape":{"field":"c","type":"nominal","scale":{"domain":["M0 HD","M0 MS","M0 SpA","M1 HD","M1 MS","M1 SpA","M2 HD","M2 MS","M2 SpA"],"range":["M1,0A1,1,0,1,1,-1,0A1,1,0,1,1,1,0Z","M-0.85,-0.85H0.85V0.85H-0.85Z","M0,-1L1,0.75H-1Z","M1,0A1,1,0,1,1,-1,0A1,1,0,1,1,1,0Z","M-0.85,-0.85H0.85V0.85H-0.85Z","M0,-1L1,0.75H-1Z","M1,0A1,1,0,1,1,-1,0A1,1,0,1,1,1,0Z","M-0.85,-0.85H0.85V0.85H-0.85Z","M0,-1L1,0.75H-1Z"]},"legend":null},
"fill":{"field":"c","type":"nominal","scale":{"domain":["M0 HD","M0 MS","M0 SpA","M1 HD","M1 MS","M1 SpA","M2 HD","M2 MS","M2 SpA"],"range":["white","white","white","black","black","black","white","white","white"]},"legend":null}}},
{"data":{"name":"leg"},"transform":[{"filter":{"field":"c","oneOf":["M0 HD","M0 MS","M0 SpA"]}}],"mark":{"type":"point","filled":true,"fill":"black","strokeWidth":0,"size":24,"opacity":1},
"encoding":{"x":{"field":"col","type":"nominal","axis":null},"y":{"field":"row","type":"nominal","title":null},"shape":{"field":"c","type":"nominal","scale":{"domain":["M0 HD","M0 MS","M0 SpA"],"range":["M0,-1A1,1,0,0,0,0,1Z","M-0.85,-0.85H0V0.85H-0.85Z","M0,-1V0.75H-1Z"]},"legend":null}}},
{"data":{"name":"leg"},"transform":[{"filter":"datum.t != null"}],"mark":{"type":"text","color":"black","fontSize":7.5},"encoding":{"x":{"field":"col","type":"nominal","axis":null},"y":{"field":"row","type":"nominal","title":null},"text":{"field":"t"}}},
{"data":{"name":"legLine"},"mark":{"type":"rule","color":"black","strokeWidth":0.8},"encoding":{"x":{"field":"a","type":"nominal","bandPosition":0,"axis":null},"x2":{"field":"b","bandPosition":1},"y":{"field":"row","type":"nominal","bandPosition":1,"title":null}}}
]},
{"resolve": {"scale": {"fill": "independent", "shape": "independent"}}, "spacing": 14, "hconcat": [
{"title":{"text":"B","anchor":"start","fontSize":11,"offset":-16},"vconcat":[
{"title":{"text":"Suppression assay","fontSize":10.5,"offset":5},"width":300,"height":166,"layer":[
{"data":{"name":"supp"},"mark":{"type":"bar","stroke":"black","strokeWidth":1.5},
"encoding":{"x":{"field":"k","type":"nominal","sort":null,"title":null,"scale":{"domain":["US (MS)","IL-4/IL-10/TGF-β (MS)","LPS/IFNγ (MS)","PBMC+anti-CD3 (MS)","US (SpA)","IL-4/IL-10/TGF-β (SpA)","LPS/IFNγ (SpA)","PBMC+anti-CD3 (SpA)"],"range":[45,300],"paddingInner":0.32,"paddingOuter":0.2},"axis":{"labelAngle":-45,"labelFontSize":8,"labelFontWeight":"bold","tickSize":4,"tickWidth":1.2,"domainWidth":1.5,"labelPadding":2}},
"y":{"field":"v","type":"quantitative","title":"Proliferation [CPM]","scale":{"domain":[0,80000],"nice":false},"axis":{"values":[0,20000,40000,60000,80000],"format":",d","offset":-45,"titleFontSize":9.5,"titleFontWeight":"bold","labelFontSize":9,"labelFontWeight":"bold","tickSize":4,"tickWidth":1.2,"domainWidth":1.5,"titlePadding":12,"labelPadding":2,"minExtent":44}},
"fill":{"field":"k","type":"nominal","sort":null,"scale":{"domain":["US (MS)","IL-4/IL-10/TGF-β (MS)","LPS/IFNγ (MS)","PBMC+anti-CD3 (MS)","US (SpA)","IL-4/IL-10/TGF-β (SpA)","LPS/IFNγ (SpA)","PBMC+anti-CD3 (SpA)"],"range":["#7a7a7a","white","black","#6a6a6a","#7a7a7a","white","black","#6a6a6a"]},"legend":null}}},
{"data":{"name":"supp"},"mark":{"type":"rule","color":"black","strokeWidth":1.5},"encoding":{"x":{"field":"k","type":"nominal","title":null},"y":{"field":"v","type":"quantitative","title":"Proliferation [CPM]","axis":{"values":[0,20000,40000,60000,80000],"format":",d","offset":-45,"titleFontSize":9.5,"titleFontWeight":"bold","labelFontSize":9,"labelFontWeight":"bold","tickSize":4,"tickWidth":1.2,"domainWidth":1.5,"titlePadding":12,"labelPadding":2,"minExtent":44}},"y2":{"field":"e"}}},
{"data":{"name":"supp"},"mark":{"type":"tick","color":"black","thickness":1.5,"size":13,"opacity":1},"encoding":{"x":{"field":"k","type":"nominal","title":null},"y":{"field":"e","type":"quantitative","title":"Proliferation [CPM]","axis":{"values":[0,20000,40000,60000,80000],"format":",d","offset":-45,"titleFontSize":9.5,"titleFontWeight":"bold","labelFontSize":9,"labelFontWeight":"bold","tickSize":4,"tickWidth":1.2,"domainWidth":1.5,"titlePadding":12,"labelPadding":2,"minExtent":44}}}},
{"data":{"name":"suppSeg"},"mark":{"type":"rule","color":"black","strokeWidth":1.2},"encoding":{"x":{"field":"xa","type":"nominal","title":null},"x2":{"field":"xb"},"y":{"field":"ya","type":"quantitative","title":"Proliferation [CPM]","axis":{"values":[0,20000,40000,60000,80000],"format":",d","offset":-45,"titleFontSize":9.5,"titleFontWeight":"bold","labelFontSize":9,"labelFontWeight":"bold","tickSize":4,"tickWidth":1.2,"domainWidth":1.5,"titlePadding":12,"labelPadding":2,"minExtent":44}},"y2":{"field":"yb"}}},
{"data":{"name":"suppSegE"},"mark":{"type":"rule","color":"black","strokeWidth":1.2},"encoding":{"x":{"field":"xa","type":"nominal","title":null},"x2":{"field":"xb","bandPosition":0},"y":{"field":"ya","type":"quantitative","title":"Proliferation [CPM]","axis":{"values":[0,20000,40000,60000,80000],"format":",d","offset":-45,"titleFontSize":9.5,"titleFontWeight":"bold","labelFontSize":9,"labelFontWeight":"bold","tickSize":4,"tickWidth":1.2,"domainWidth":1.5,"titlePadding":12,"labelPadding":2,"minExtent":44}},"y2":{"field":"yb"}}},
{"data":{"name":"suppNs"},"mark":{"type":"rule","color":"black","strokeWidth":1.2},"encoding":{"x":{"field":"a","type":"nominal","bandPosition":0,"title":null},"x2":{"field":"b","bandPosition":1},"y":{"field":"y","type":"quantitative","title":"Proliferation [CPM]","axis":{"values":[0,20000,40000,60000,80000],"format":",d","offset":-45,"titleFontSize":9.5,"titleFontWeight":"bold","labelFontSize":9,"labelFontWeight":"bold","tickSize":4,"tickWidth":1.2,"domainWidth":1.5,"titlePadding":12,"labelPadding":2,"minExtent":44}}}},
{"data":{"name":"suppNs"},"mark":{"type":"rule","color":"black","strokeWidth":1.2},"encoding":{"x":{"field":"a","type":"nominal","bandPosition":0,"title":null},"y":{"field":"lo","type":"quantitative","title":"Proliferation [CPM]","axis":{"values":[0,20000,40000,60000,80000],"format":",d","offset":-45,"titleFontSize":9.5,"titleFontWeight":"bold","labelFontSize":9,"labelFontWeight":"bold","tickSize":4,"tickWidth":1.2,"domainWidth":1.5,"titlePadding":12,"labelPadding":2,"minExtent":44}},"y2":{"field":"hi"}}},
{"data":{"name":"suppNs"},"mark":{"type":"rule","color":"black","strokeWidth":1.2},"encoding":{"x":{"field":"b","type":"nominal","bandPosition":1,"title":null},"y":{"field":"lo","type":"quantitative","title":"Proliferation [CPM]","axis":{"values":[0,20000,40000,60000,80000],"format":",d","offset":-45,"titleFontSize":9.5,"titleFontWeight":"bold","labelFontSize":9,"labelFontWeight":"bold","tickSize":4,"tickWidth":1.2,"domainWidth":1.5,"titlePadding":12,"labelPadding":2,"minExtent":44}},"y2":{"field":"hi"}}},
{"data":{"name":"suppNs"},"mark":{"type":"text","color":"black","fontSize":10,"baseline":"middle"},"encoding":{"x":{"field":"a","type":"nominal","bandPosition":1.235,"title":null},"y":{"field":"ty","type":"quantitative","title":"Proliferation [CPM]","axis":{"values":[0,20000,40000,60000,80000],"format":",d","offset":-45,"titleFontSize":9.5,"titleFontWeight":"bold","labelFontSize":9,"labelFontWeight":"bold","tickSize":4,"tickWidth":1.2,"domainWidth":1.5,"titlePadding":12,"labelPadding":2,"minExtent":44}},"text":{"field":"t"}}},
{"data":{"name":"suppTxt"},"mark":{"type":"text","color":"black","fontSize":9,"baseline":"middle"},"encoding":{"x":{"field":"x","type":"nominal","title":null},"y":{"field":"y","type":"quantitative","title":"Proliferation [CPM]","axis":{"values":[0,20000,40000,60000,80000],"format":",d","offset":-45,"titleFontSize":9.5,"titleFontWeight":"bold","labelFontSize":9,"labelFontWeight":"bold","tickSize":4,"tickWidth":1.2,"domainWidth":1.5,"titlePadding":12,"labelPadding":2,"minExtent":44}},"text":{"field":"t"}}}
]}]},
{"title":{"text":"C","anchor":"start","fontSize":11,"offset":-16},"vconcat":[
{"title":{"text":"TNFα","fontSize":10.5,"offset":5},"width":253,"height":166,"layer":[
{"data":{"name":"tnf"},"mark":{"type":"bar","stroke":"black","strokeWidth":1.5},
"encoding":{"x":{"field":"k","type":"nominal","sort":null,"title":null,"scale":{"domain":["M0→M1 (MS)","M0→M1 (SpA)","M2→M1 (MS)","M2→M1 (SpA)"],"paddingInner":0.33,"paddingOuter":0.22},"axis":{"labelAngle":-45,"labelFontSize":8,"labelFontWeight":"bold","tickSize":4,"tickWidth":1.2,"domainWidth":1.5,"labelPadding":2}},
"y":{"field":"v","type":"quantitative","title":"TNFα [pg/ml]","scale":{"domain":[0,400],"nice":false},"axis":{"values":[0,100,200,300,400],"titleFontSize":9.5,"titleFontWeight":"bold","labelFontSize":8.5,"labelFontWeight":"bold","tickSize":4,"tickWidth":1.2,"domainWidth":1.5,"titlePadding":9,"labelPadding":2,"minExtent":20}},
"fill":{"field":"k","type":"nominal","sort":null,"scale":{"domain":["M0→M1 (MS)","M0→M1 (SpA)","M2→M1 (MS)","M2→M1 (SpA)"],"range":["black","black","white","white"]},"legend":null}}},
{"data":{"name":"tnf"},"mark":{"type":"rule","color":"black","strokeWidth":1.5},"encoding":{"x":{"field":"k","type":"nominal","title":null},"y":{"field":"v","type":"quantitative","title":"TNFα [pg/ml]"},"y2":{"field":"e"}}},
{"data":{"name":"tnf"},"mark":{"type":"tick","color":"black","thickness":1.5,"size":20,"opacity":1},"encoding":{"x":{"field":"k","type":"nominal","title":null},"y":{"field":"e","type":"quantitative","title":"TNFα [pg/ml]"}}},
{"data":{"name":"tnfNs"},"mark":{"type":"rule","color":"black","strokeWidth":1.2},"encoding":{"x":{"field":"a","type":"nominal","bandPosition":0,"title":null},"x2":{"field":"b","bandPosition":1},"y":{"field":"y","type":"quantitative","title":"TNFα [pg/ml]"}}},
{"data":{"name":"tnfNs"},"mark":{"type":"rule","color":"black","strokeWidth":1.2},"encoding":{"x":{"field":"a","type":"nominal","bandPosition":0,"title":null},"y":{"field":"lo","type":"quantitative","title":"TNFα [pg/ml]"},"y2":{"field":"hi"}}},
{"data":{"name":"tnfNs"},"mark":{"type":"rule","color":"black","strokeWidth":1.2},"encoding":{"x":{"field":"b","type":"nominal","bandPosition":1,"title":null},"y":{"field":"lo","type":"quantitative","title":"TNFα [pg/ml]"},"y2":{"field":"hi"}}},
{"data":{"name":"tnfNs"},"mark":{"type":"text","color":"black","fontSize":11,"baseline":"middle"},"encoding":{"x":{"field":"a","type":"nominal","bandPosition":1.246,"title":null},"y":{"field":"ty","type":"quantitative","title":"TNFα [pg/ml]"},"text":{"field":"t"}}}
]}]}
]}
]
}
